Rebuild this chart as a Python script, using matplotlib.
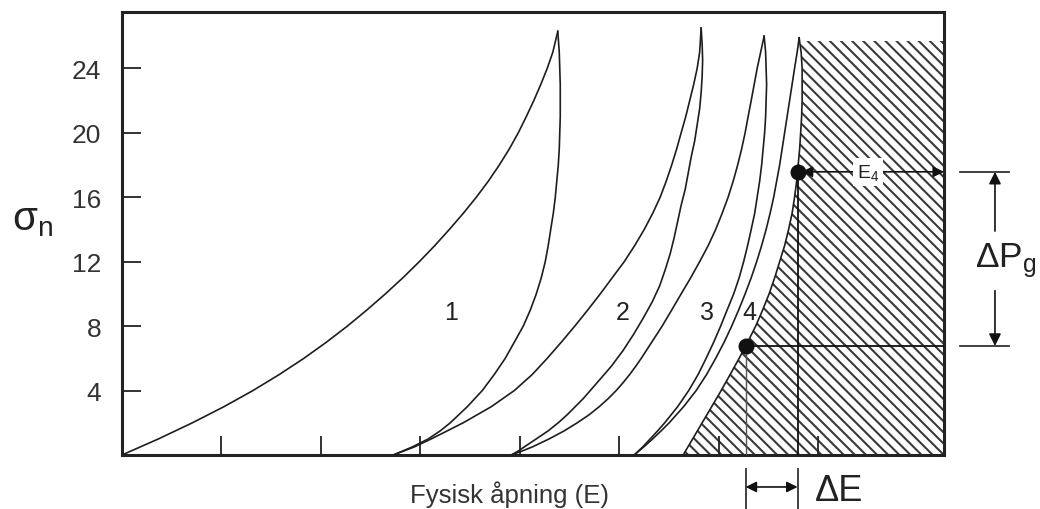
import numpy as np
import matplotlib
matplotlib.use("Agg")
import matplotlib.pyplot as plt
from matplotlib.transforms import blended_transform_factory

plt.rcParams['font.family'] = ['Liberation Sans', 'DejaVu Sans']
plt.rcParams['mathtext.fontset'] = 'custom'
plt.rcParams['mathtext.rm'] = 'Liberation Sans'
plt.rcParams['mathtext.it'] = 'Liberation Sans'
plt.rcParams['mathtext.sf'] = 'Liberation Sans'
plt.rcParams['hatch.linewidth'] = 1.5

# ---------------- data (E = physical aperture, sigma_n = normal stress) -------------
load1_s = [0, 1, 2, 3, 4, 5, 6, 7, 8, 9, 10, 11, 12, 13, 14, 15, 16, 17, 18, 19, 20,
           21, 22, 23, 24, 25, 26.3]
load1_e = [0.0, 0.367, 0.708, 1.025, 1.316, 1.582, 1.828, 2.054, 2.265, 2.461, 2.647,
           2.823, 2.988, 3.144, 3.290, 3.430, 3.561, 3.682, 3.792, 3.893, 3.983,
           4.063, 4.139, 4.209, 4.274, 4.330, 4.380]

unload1_s = [26.3, 25, 24, 23, 22, 21, 20, 19, 18, 17, 16, 15, 14, 13, 12, 11, 10, 9, 8,
             7, 6, 5, 4, 3, 2, 1.5, 1, 0.5, 0]
unload1_e = [4.380, 4.395, 4.400, 4.405, 4.405, 4.405, 4.400, 4.395, 4.385, 4.370, 4.355,
             4.335, 4.309, 4.284, 4.254, 4.214, 4.164, 4.104, 4.033, 3.943, 3.852,
             3.742, 3.621, 3.471, 3.300, 3.199, 3.079, 2.918, 2.727]

load2_s = [0, 0.5, 1, 2, 3, 4, 5, 6, 7, 8, 9, 10, 11, 12, 13, 14, 15, 16, 17, 18, 19,
           20, 21, 22, 23, 24, 25, 26.5]
load2_e = [2.727, 2.938, 3.109, 3.430, 3.712, 3.943, 4.124, 4.274, 4.415, 4.551, 4.681,
           4.807, 4.927, 5.048, 5.153, 5.249, 5.334, 5.409, 5.470, 5.525, 5.575,
           5.620, 5.666, 5.706, 5.746, 5.781, 5.806, 5.821]

unload2_s = [26.5, 25.5, 24.5, 23.5, 22.5, 21.5, 20.5, 19.5, 18.5, 17.5, 16.5, 15.5,
             14.5, 13.5, 12.5, 11.5, 10.5, 9.5, 8.5, 7.5, 6.5, 5.5, 4.5, 3.5, 2.5, 2,
             1.5, 1, 0.5, 0.25, 0]
unload2_e = [5.821, 5.831, 5.836, 5.831, 5.821, 5.806, 5.781, 5.756, 5.721, 5.691,
             5.661, 5.620, 5.585, 5.550, 5.510, 5.460, 5.404, 5.329, 5.239, 5.143,
             5.038, 4.917, 4.777, 4.636, 4.475, 4.385, 4.284, 4.164, 4.043, 3.983,
             3.913]

load3_s = [0, 0.25, 0.5, 1, 1.5, 2, 2.5, 3, 3.5, 4, 4.5, 5, 5.5, 6, 7, 8, 9, 10, 11, 12,
           13, 14, 15, 16, 17, 18, 19, 20, 21, 22, 23, 24, 25, 26]
load3_e = [3.913, 4.023, 4.124, 4.294, 4.445, 4.576, 4.696, 4.797, 4.887, 4.967, 5.038,
           5.103, 5.163, 5.219, 5.324, 5.429, 5.525, 5.620, 5.716, 5.806, 5.892, 5.967,
           6.032, 6.092, 6.143, 6.188, 6.228, 6.263, 6.293, 6.324, 6.354, 6.384, 6.419,
           6.454]

unload3_s = [26, 25, 24, 23, 22, 21, 20, 19, 18, 17, 16, 15, 14, 13, 12, 11, 10, 9, 8,
             7, 6, 5, 4, 3, 2, 1.5, 1, 0.5, 0]
unload3_e = [6.454, 6.469, 6.474, 6.479, 6.474, 6.469, 6.459, 6.444, 6.429, 6.409,
             6.384, 6.359, 6.324, 6.288, 6.248, 6.203, 6.148, 6.082, 6.017, 5.947,
             5.871, 5.791, 5.696, 5.585, 5.455, 5.384, 5.309, 5.234, 5.148]

load4_s = [0, 0.5, 1, 1.5, 2, 3, 4, 5, 6, 7, 8, 9, 10, 11, 12, 13, 14, 15, 16, 17, 18,
           19, 20, 21, 22, 23, 24, 25, 25.9]
load4_e = [5.148, 5.244, 5.334, 5.419, 5.500, 5.645, 5.771, 5.876, 5.967, 6.052, 6.128,
           6.198, 6.263, 6.324, 6.379, 6.429, 6.474, 6.514, 6.550, 6.580, 6.610, 6.635,
           6.660, 6.685, 6.710, 6.735, 6.760, 6.786, 6.806]

# unloading branch of cycle 4 = left boundary of the hatched region
unload4_s = [25.9, 25, 24, 23, 22, 21, 20, 19, 18, 17, 16, 15, 14, 13, 12, 11, 10, 9,
             8, 7, 6, 5, 4, 3, 2, 1, 0]
unload4_e = [6.806, 6.826, 6.836, 6.836, 6.836, 6.831, 6.821, 6.811, 6.796, 6.781,
             6.760, 6.735, 6.700, 6.660, 6.610, 6.560, 6.504, 6.439, 6.369, 6.288,
             6.203, 6.113, 6.022, 5.927, 5.831, 5.736, 5.640]

hatch_top = 25.7
dot_hi = (6.790, 17.58)   # upper point on curve 4
dot_lo = (6.268, 6.77)    # lower point on curve 4

curve_labels = ['1', '2', '3', '4']
curve_label_e = [3.31, 5.03, 5.88, 6.31]
curve_label_s = [8.9, 8.9, 8.9, 8.9]

y_ticks = [4, 8, 12, 16, 20, 24]
x_ticks = [1, 2, 3, 4, 5, 6, 7]
x_max = 8.262
y_max = 27.5

# ---------------- figure -------------
fig = plt.figure(figsize=(10.4, 5.1), dpi=100)
ax = fig.add_axes([0.1173, 0.1059, 0.7904, 0.8686])
ax.set_xlim(0, x_max)
ax.set_ylim(0, y_max)

line_c = '#1e1e1e'

# hatched region right of the curve-4 unloading branch
bs = np.array(unload4_s)
be = np.array(unload4_e)
keep = bs <= hatch_top
poly_e = list(be[keep][::-1]) + [be[keep][0], x_max, x_max]
poly_s = list(bs[keep][::-1]) + [hatch_top, hatch_top, 0]
ax.fill(poly_e, poly_s, facecolor='white', edgecolor='#3a3a3a', hatch='\\\\\\',
        linewidth=0, zorder=1)

for e, s in [(load1_e, load1_s), (unload1_e, unload1_s), (load2_e, load2_s),
             (unload2_e, unload2_s), (load3_e, load3_s), (unload3_e, unload3_s),
             (load4_e, load4_s), (unload4_e, unload4_s)]:
    ax.plot(e, s, color=line_c, lw=1.2, zorder=3, solid_joinstyle='round')

# guide lines from the two points
ax.plot([dot_hi[0], dot_hi[0]], [0, dot_hi[1]], color='#111', lw=1.3, zorder=3)
ax.plot([dot_lo[0], dot_lo[0]], [0, dot_lo[1]], color='#555', lw=1.0, zorder=3)
ax.plot([dot_lo[0], x_max], [dot_lo[1], dot_lo[1]], color='#111', lw=1.3, zorder=3)

# E4 arrow
ax.annotate('', xy=(x_max, dot_hi[1]), xytext=(dot_hi[0], dot_hi[1]),
            arrowprops=dict(arrowstyle='<|-|>', color='#111', lw=1.2,
                            mutation_scale=16, shrinkA=3, shrinkB=0), zorder=4)
ax.text(7.388, 17.27, r'E$_{\rm 4}$', fontsize=14, color='#222', ha='left', va='baseline',
        bbox=dict(facecolor='white', edgecolor='none', pad=3), zorder=5)

ax.plot([dot_hi[0], dot_lo[0]], [dot_hi[1], dot_lo[1]], 'o', color='#111',
        markersize=10.5, zorder=6)

for lab, e, s in zip(curve_labels, curve_label_e, curve_label_s):
    ax.text(e, s, lab, fontsize=18, color='#222', ha='center', va='center', zorder=5)

# axes styling
ax.set_yticks(y_ticks)
ax.set_xticks(x_ticks)
ax.set_xticklabels([])
ax.tick_params(direction='in', length=13.5, width=1.3, pad=15, labelsize=19,
               labelcolor='#333', color='#222')
for sp in ax.spines.values():
    sp.set_linewidth(2.2)
    sp.set_color('#222')

ax.text(0.3504, -0.106, 'Fysisk åpning (E)', transform=ax.transAxes, fontsize=18.5,
        color='#333', ha='left', va='baseline')
trans_y = blended_transform_factory(ax.transAxes, ax.transData)
ax.text(-0.1338, 14.0, r'σ$_{\rm n}$', transform=trans_y, fontsize=29, color='#222',
        ha='left', va='baseline')

# Delta Pg annotation on the right
for s in (dot_hi[1], dot_lo[1]):
    ax.plot([1.0195, 1.079], [s, s], transform=trans_y, clip_on=False, color='#333', lw=1.3)
ax.annotate('', xy=(1.062, dot_hi[1]), xycoords=trans_y, xytext=(1.062, 13.9),
            textcoords=trans_y,
            arrowprops=dict(arrowstyle='-|>', color='#111', lw=1.2, mutation_scale=18,
                            shrinkA=0, shrinkB=0))
ax.annotate('', xy=(1.062, dot_lo[1]), xycoords=trans_y, xytext=(1.062, 10.2),
            textcoords=trans_y,
            arrowprops=dict(arrowstyle='-|>', color='#111', lw=1.2, mutation_scale=18,
                            shrinkA=0, shrinkB=0))
ax.text(1.0375, 11.74, r'ΔP$_{\rm g}$', transform=trans_y, fontsize=25.5, color='#222',
        ha='left', va='baseline')

# Delta E annotation below
trans_x = blended_transform_factory(ax.transData, ax.transAxes)
for e in (dot_lo[0], dot_hi[0]):
    ax.plot([e, e], [-0.0316, -0.125], transform=trans_x, clip_on=False, color='#333', lw=1.3)
ax.annotate('', xy=(dot_hi[0], -0.0722), xycoords=trans_x, xytext=(dot_lo[0], -0.0722),
            textcoords=trans_x,
            arrowprops=dict(arrowstyle='<|-|>', color='#111', lw=1.2, mutation_scale=16,
                            shrinkA=0, shrinkB=0))
ax.text(6.966, -0.1016, 'ΔE', transform=trans_x, fontsize=26, color='#222',
        ha='left', va='baseline')

fig.savefig('out.png', dpi=100)
